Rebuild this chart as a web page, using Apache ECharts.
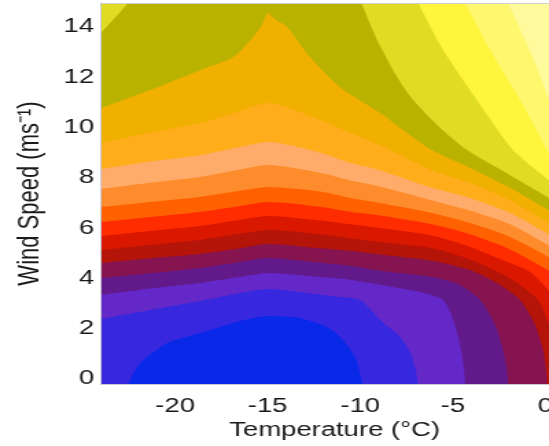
<!DOCTYPE html>
<html>
<head>
<meta charset="utf-8">
<script src="https://cdn.jsdelivr.net/npm/echarts@6/dist/echarts.min.js"></script>
<style>
html,body{margin:0;padding:0;background:#fff;overflow:hidden;width:549px;height:446px;}
#chart{width:400px;height:446px;transform:scaleX(1.3725);transform-origin:0 0;}
</style>
</head>
<body>
<div id="chart"></div>
<script>
// Tick labels
const xTicks = [-20, -15, -10, -5, 0];
const yTicks = [0, 2, 4, 6, 8, 10, 12, 14];

// Fill colours of the contour bands, lowest level first
const bandColors = ['#0a28e8','#3728e0','#6428c8','#621a8a','#861450','#b51408','#da1800','#ff2c00','#ff6000','#ff8c2c','#ffac6a','#ffad1a','#f0b000','#b9b200','#e0dc23','#fff53c','#fff86e','#fffa9b'];

// Upper boundary (wind speed) of each band, as [temperature, wind speed]
const top0 = [[-24,-2],[-22.8,-0.6],[-22.54,-0.2],[-22.2,0.3],[-21.73,0.75],[-21.0,1.15],[-20.43,1.43],[-19.5,1.65],[-18.65,1.83],[-16.87,2.23],[-15.9,2.4],[-14.98,2.5],[-14.1,2.48],[-13.25,2.42],[-11.79,2.07],[-10.93,1.55],[-10.28,0.87],[-10.01,0.24],[-9.9,-0.2],[-9.7,-1.5],[0.2,-2]];
const top1 = [[-24,2.38],[-21.35,2.74],[-18.65,3.1],[-16.49,3.42],[-14.98,3.58],[-13.25,3.46],[-11.63,3.3],[-10.01,3.14],[-8.93,2.35],[-7.85,1.67],[-7.31,1.07],[-7.04,0.48],[-6.87,-0.2],[-6.7,-1.5],[0.2,-2]];
const top2 = [[-24,3.34],[-21.35,3.6],[-18.65,3.82],[-16.49,4.05],[-14.98,4.21],[-12.17,4.05],[-10.55,3.95],[-8.93,3.75],[-6.77,3.46],[-5.52,3.14],[-4.88,2.15],[-4.55,1.15],[-4.39,0.36],[-4.33,-0.2],[-4.2,-1.5],[0.2,-2]];
const top3 = [[-24,4.01],[-21.35,4.2],[-18.65,4.41],[-16.49,4.65],[-14.98,4.81],[-12.17,4.62],[-10.55,4.5],[-8.93,4.3],[-6.12,4.05],[-4.61,3.74],[-3.52,3.14],[-2.71,2.15],[-2.28,1.15],[-2.07,0.36],[-2.01,-0.2],[-1.9,-1.5],[0.2,-2]];
const top4 = [[-24,4.61],[-21.35,4.8],[-18.65,4.97],[-16.49,5.2],[-14.98,5.37],[-12.17,5.2],[-10.55,5.1],[-8.93,4.95],[-6.12,4.7],[-4.07,4.33],[-2.44,3.74],[-1.36,3.14],[-0.55,2.15],[-0.12,1.15],[0.04,0.36],[0.09,-0.2],[0.2,-1]];
const top5 = [[-24,5.13],[-21.35,5.33],[-18.65,5.53],[-16.49,5.77],[-14.98,5.92],[-12.17,5.75],[-10.55,5.6],[-8.93,5.45],[-6.12,5.2],[-4.07,4.75],[-1.9,4.0],[-0.39,3.14],[0.2,2.15]];
const top6 = [[-24,5.68],[-21.35,5.88],[-18.65,6.08],[-16.49,6.33],[-14.98,6.48],[-12.17,6.3],[-10.55,6.15],[-8.93,6.0],[-6.12,5.7],[-4.07,5.25],[-1.9,4.6],[-0.8,4.25],[0.2,3.5]];
const top7 = [[-24,6.24],[-21.35,6.44],[-18.65,6.64],[-16.49,6.88],[-14.98,7.04],[-12.17,6.85],[-10.55,6.65],[-8.93,6.5],[-6.12,6.15],[-4.07,5.75],[-1.9,5.15],[0.2,4.3]];
const top8 = [[-24,6.84],[-21.35,7.04],[-18.65,7.24],[-16.49,7.48],[-14.98,7.63],[-12.17,7.45],[-10.55,7.2],[-8.93,7.0],[-6.12,6.6],[-4.07,6.2],[-1.9,5.65],[0.2,4.85]];
const top9 = [[-24,7.55],[-21.35,7.8],[-18.65,8.03],[-16.49,8.33],[-14.98,8.51],[-12.17,8.2],[-10.55,7.9],[-8.93,7.65],[-6.12,7.1],[-4.07,6.7],[-1.9,6.15],[0.2,5.3]];
const top10 = [[-24,8.35],[-21.35,8.65],[-18.65,8.9],[-16.49,9.22],[-14.98,9.42],[-12.17,9.0],[-10.55,8.6],[-8.93,8.3],[-6.12,7.6],[-4.07,7.2],[-1.9,6.6],[0.2,5.75]];
const top11 = [[-24,9.38],[-21.35,9.8],[-18.65,10.18],[-16.49,10.65],[-14.98,10.97],[-12.17,10.3],[-10.55,9.8],[-8.93,9.3],[-6.12,8.3],[-4.07,7.8],[-1.9,7.1],[0.2,6.2]];
const top12 = [[-24,10.77],[-21.35,11.49],[-18.65,12.28],[-16.87,12.8],[-15.79,13.6],[-15.3,14.1],[-14.98,14.55],[-14.6,14.3],[-13.95,14.0],[-12.71,12.8],[-11.09,11.61],[-8.93,10.58],[-6.12,9.1],[-4.07,8.4],[-1.9,7.6],[0.2,6.7]];
const top13 = [[-24,13.76],[-23.2,14.4],[-22.54,14.95],[-22,15.5],[-20,16.5],[-12,16.5],[-10.5,15.5],[-9.95,14.95],[-9.4,14.0],[-8.93,13.25],[-8.0,12.0],[-7.14,11.09],[-5.7,10.0],[-4.23,9.1],[-1.9,8.1],[0.2,7.2]];
const top14 = [[-24,16.5],[-8,16.5],[-6.87,14.95],[-5.52,13.08],[-3.69,11.09],[-1.74,9.1],[0.2,7.9]];
const top15 = [[-24,16.5],[-5.5,16.5],[-4.33,14.95],[-2.98,13.08],[-1.36,11.09],[0.09,9.1],[0.2,8.95]];
const top16 = [[-24,16.5],[-3,16.5],[-2.01,14.95],[-1.2,13.64],[-0.39,12.28],[0.2,11.1]];
const top17 = [[-24,16.5],[0.2,16.5]];

const bandTops = [top0,top1,top2,top3,top4,top5,top6,top7,top8,top9,top10,top11,top12,top13,top14,top15,top16,top17];

const FONT = '"Liberation Sans", Arial, Helvetica, sans-serif';
const series = [];
for (let k = bandTops.length - 1; k >= 0; k--) {
  series.push({
    type: 'line',
    data: bandTops[k],
    symbol: 'none',
    smooth: 0.25,
    clip: true,
    silent: true,
    lineStyle: { width: 0 },
    areaStyle: { color: bandColors[k], opacity: 1, origin: 'start' },
    z: 2
  });
}

const chart = echarts.init(document.getElementById('chart'), null, { renderer: 'canvas' });
chart.setOption({
  animation: false,
  backgroundColor: '#ffffff',
  grid: { left: 73.6, right: 0, top: 3, bottom: 62, containLabel: false, outerBoundsMode: 'none' },
  xAxis: [{
    type: 'value', min: -24, max: 0.2, position: 'bottom', z: 10,
    name: 'Temperature (°C)', nameLocation: 'middle', nameGap: 33,
    nameTextStyle: { fontSize: 20, color: '#1a1a1a', fontFamily: FONT, padding: [0, 0, 0, 14] },
    axisLine: { show: true, onZero: false, lineStyle: { color: '#c8c8d4', width: 1 } },
    axisTick: { show: false },
    splitLine: { show: false },
    axisLabel: { customValues: xTicks, fontSize: 20, color: '#1a1a1a', fontFamily: FONT, margin: 12 }
  }, {
    type: 'value', min: -24, max: 0.2, position: 'top', z: 10,
    axisLine: { show: true, onZero: false, lineStyle: { color: '#d0d0d0', width: 1 } },
    axisTick: { show: false }, splitLine: { show: false }, axisLabel: { show: false }
  }],
  yAxis: {
    type: 'value', min: -0.2, max: 14.95, z: 10,
    name: 'Wind Speed (ms⁻¹)', nameLocation: 'middle', nameGap: 41, nameRotate: 90,
    nameTextStyle: { fontSize: 22, color: '#1a1a1a', fontFamily: FONT },
    axisLine: { show: true, onZero: false, lineStyle: { color: '#c8c8d4', width: 1 } },
    axisTick: { show: false },
    splitLine: { show: false },
    axisLabel: { customValues: yTicks, fontSize: 20, color: '#1a1a1a', fontFamily: FONT, margin: 5 }
  },
  series: series
});
</script>
</body>
</html>
